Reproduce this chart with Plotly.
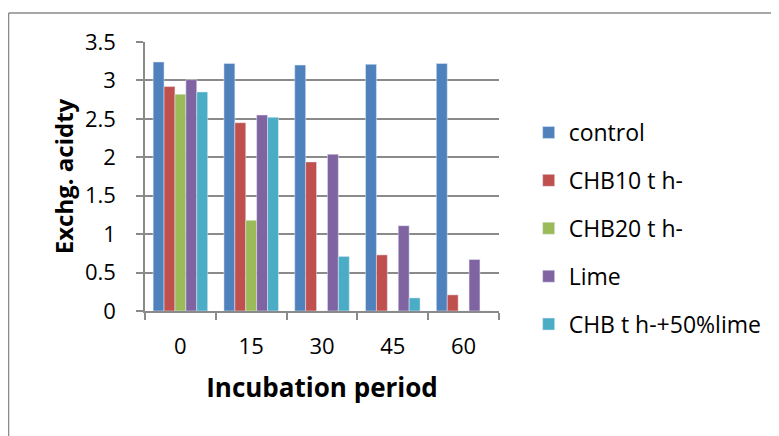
import plotly.graph_objects as go

categories = ["0", "15", "30", "45", "60"]
series_names = ["control", "CHB10 t h-", "CHB20 t h-", "Lime", "CHB t h-+50%lime"]
control = [3.24, 3.22, 3.20, 3.21, 3.22]
chb10 = [2.92, 2.45, 1.94, 0.73, 0.21]
chb20 = [2.82, 1.18, 0, 0, 0]
lime = [3.01, 2.55, 2.04, 1.11, 0.67]
chb_lime = [2.85, 2.52, 0.71, 0.17, 0]
colors = ["#4F81BD", "#C0504D", "#9BBB59", "#8064A2", "#4BACC6"]
y_ticks = [0, 0.5, 1, 1.5, 2, 2.5, 3, 3.5]
y_tick_text = ["0", "0.5", "1", "1.5", "2", "2.5", "3", "3.5"]

FONT = "Open Sans"
GRID = "#8a8a8a"

fig = go.Figure()
for name, vals, col in zip(series_names, [control, chb10, chb20, lime, chb_lime], colors):
    fig.add_trace(go.Bar(x=categories, y=vals, name=name, marker_color=col,
                         legendgroup=name))

OFF = 8  # page body margin
L, R, T, B = 145 - OFF, 503 - OFF, 42 - OFF, 311 - OFF
W, H = 779 - OFF, 436 - OFF
pw, ph = R - L, B - T

def px(x):
    return (x - OFF - L) / pw

def py(y):
    return (B - (y - OFF)) / ph

fig.update_layout(
    width=W, height=H,
    margin=dict(l=L, r=W - R, t=T, b=H - B, pad=0),
    paper_bgcolor="white", plot_bgcolor="white",
    barmode="group", bargap=0.23, bargroupgap=0,
    font=dict(family=FONT, color="black", size=22),
    showlegend=True,
    legend=dict(x=px(533), y=py(111), xanchor="left", yanchor="top",
                font=dict(family=FONT, size=23, color="black"),
                tracegroupgap=15, traceorder="grouped",
                bgcolor="rgba(0,0,0,0)"),
    xaxis=dict(type="category", showline=True, linecolor=GRID, linewidth=1.5,
               ticks="outside", tickson="boundaries", ticklen=7, tickcolor=GRID,
               tickwidth=1.5, showgrid=False,
               tickfont=dict(family=FONT, size=22, color="black"),
               ticklabelstandoff=15,
               title=dict(text="<b>Incubation period</b>",
                          font=dict(family=FONT, size=26, color="black"),
                          standoff=20)),
    yaxis=dict(range=[0, 3.5], tickvals=y_ticks, ticktext=y_tick_text,
               showline=True, linecolor=GRID, linewidth=1.5,
               ticks="outside", ticklen=7, tickcolor=GRID, tickwidth=1.5,
               showgrid=True, gridcolor=GRID, gridwidth=1.5,
               zeroline=False,
               tickfont=dict(family=FONT, size=22, color="black"),
               ticklabelstandoff=16,
               title=dict(text="<b>Exchg. acidty</b>",
                          font=dict(family=FONT, size=24, color="black"),
                          standoff=5)),
    shapes=[
        dict(type="line", xref="paper", yref="paper", x0=px(7), x1=px(790),
             y0=py(13), y1=py(13), line=dict(color=GRID, width=1.5)),
        dict(type="line", xref="paper", yref="paper", x0=px(7), x1=px(7),
             y0=py(13), y1=py(445), line=dict(color=GRID, width=1.5)),
    ],
)

fig.write_html("out.html")
